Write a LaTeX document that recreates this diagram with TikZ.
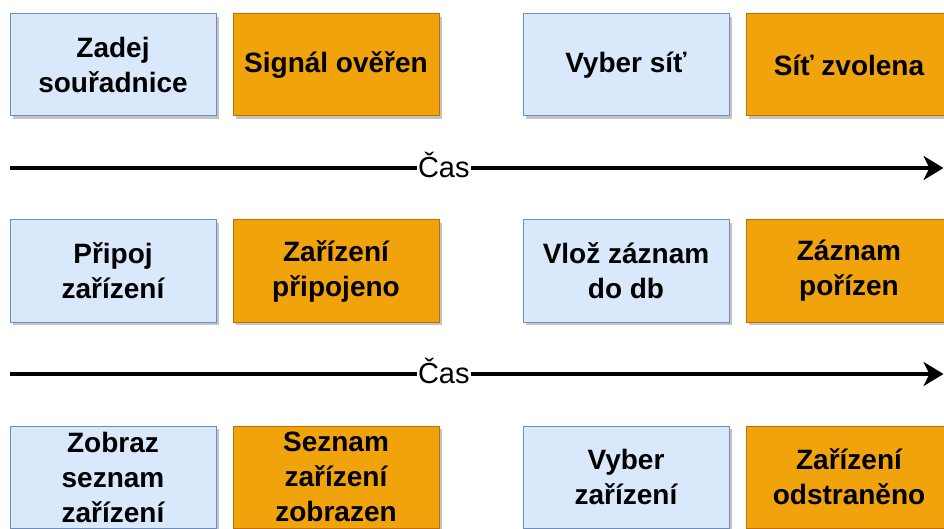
\documentclass[tikz,border=0pt]{standalone}
\usepackage{fontspec}
\setmainfont{Liberation Sans}
\usetikzlibrary{positioning,arrows.meta,calc,shadows}
\definecolor{actfill}{HTML}{DAE8FC}
\definecolor{actline}{HTML}{6C8EBF}
\definecolor{evfill}{HTML}{F0A30A}
\definecolor{evline}{HTML}{BD7000}
\definecolor{shade}{HTML}{C4C4C4}
\definecolor{ink}{HTML}{000000}
\tikzset{
  actbox/.style={draw=actline, line width=1pt, fill=actfill, align=flush center,
    minimum width=206pt, minimum height=102pt, inner sep=0pt, text=ink,
    font=\fontsize{28pt}{35pt}\selectfont\bfseries,
    drop shadow={shadow xshift=3pt, shadow yshift=-3pt, fill=shade, opacity=1}},
  evbox/.style={actbox, draw=evline, fill=evfill},
  timearr/.style={-{Stealth[length=20pt,width=24pt,inset=6pt]}, line width=4pt, color=ink},
  tlab/.style={fill=white, inner xsep=1pt, inner ysep=2pt, text=ink,
    font=\fontsize{29pt}{33pt}\selectfont},
}

\begin{document}
\begin{tikzpicture}[x=1pt, y=1pt]
    \useasboundingbox (0,0) rectangle (944,528);
    % radek 1
    \node[actbox] (r1a) at (113,463) {Zadej\\souřadnice};
    \node[evbox, right=16pt of r1a] (r1b) {Signál ověřen};
    \node[actbox, right=83pt of r1b] (r1c) {Vyber síť};
    \node[evbox, right=16pt of r1c] (r1d) {Síť zvolena};
    % radek 2
    \node[actbox, below=103pt of r1a] (r2a) {Připoj\\zařízení};
    \node[evbox, right=16pt of r2a] (r2b) {Zařízení\\připojeno};
    \node[actbox, right=83pt of r2b] (r2c) {Vlož záznam\\do db};
    \node[evbox, right=16pt of r2c] (r2d) {Záznam\\pořízen};
    % radek 3
    \node[actbox, below=103pt of r2a] (r3a) {Zobraz\\seznam\\zařízení};
    \node[evbox, right=16pt of r3a] (r3b) {Seznam\\zařízení\\zobrazen};
    \node[actbox, right=83pt of r3b] (r3c) {Vyber\\zařízení};
    \node[evbox, right=16pt of r3c] (r3d) {Zařízení\\odstraněno};
    % osy casu
    \coordinate (t1s) at ($(r1a.south west)!0.5!(r2a.north west)$);
    \coordinate (t1e) at ($(t1s)+(934,0)$);
    \coordinate (t2s) at ($(r2a.south west)!0.5!(r3a.north west)$);
    \coordinate (t2e) at ($(t2s)+(934,0)$);
    \draw[timearr] (t1s) -- (t1e) node[tlab, pos=0.465, yshift=3pt] (cas1) {Čas};
    \draw[timearr] (t2s) -- (t2e) node[tlab, pos=0.465, yshift=3pt] (cas2) {Čas};
  \end{tikzpicture}
\end{document}
